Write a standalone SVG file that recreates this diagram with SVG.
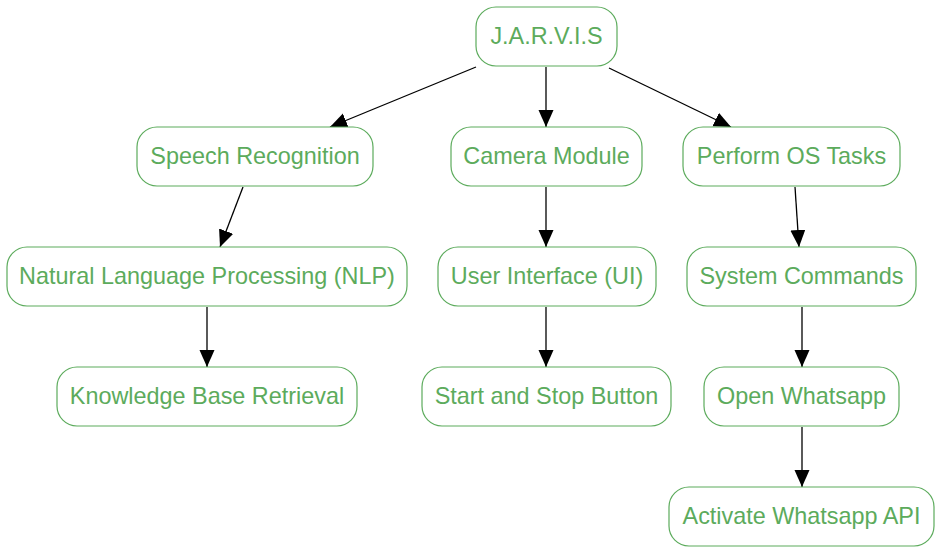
<svg xmlns="http://www.w3.org/2000/svg" width="941" height="553" viewBox="0 0 941 553">
<style>
.n rect{fill:#fff;stroke:#5cab5c;stroke-width:1.2}
.n text{font-family:"Liberation Sans",Arial,sans-serif;font-size:23.4px;fill:#5cab5c;text-anchor:middle;dominant-baseline:central}
.e line{stroke:#000;stroke-width:1.3;marker-end:url(#ah)}
</style>
<defs>
<marker id="ah" markerUnits="userSpaceOnUse" markerWidth="18" markerHeight="16" refX="17" refY="7.5" orient="auto">
<path d="M0,0 L17,7.5 L0,15 Z" fill="#000"/>
</marker>
</defs>
<rect width="941" height="553" fill="#fff"/>
<g id="edges" class="e">
<line x1="476" y1="67" x2="330" y2="127"/>
<line x1="546" y1="67" x2="546" y2="127"/>
<line x1="609" y1="68" x2="731" y2="127"/>
<line x1="243" y1="187" x2="220" y2="247"/>
<line x1="546" y1="187" x2="546" y2="247"/>
<line x1="795" y1="187" x2="799" y2="247"/>
<line x1="207" y1="307" x2="207" y2="367"/>
<line x1="546" y1="307" x2="546" y2="367"/>
<line x1="802" y1="307" x2="802" y2="367"/>
<line x1="802" y1="427" x2="802" y2="487"/>
</g>
<g id="jarvis" class="n"><rect x="476" y="7" width="141" height="59" rx="20"/><text x="546.5" y="36">J.A.R.V.I.S</text></g>
<g id="speech" class="n"><rect x="137" y="127" width="236" height="59" rx="20"/><text x="255" y="156">Speech Recognition</text></g>
<g id="camera" class="n"><rect x="451" y="127" width="191" height="59" rx="20"/><text x="546.5" y="156">Camera Module</text></g>
<g id="ostasks" class="n"><rect x="683" y="127" width="217" height="59" rx="20"/><text x="791.5" y="156">Perform OS Tasks</text></g>
<g id="nlp" class="n"><rect x="7" y="247" width="400" height="59" rx="20"/><text x="207" y="276">Natural Language Processing (NLP)</text></g>
<g id="ui" class="n"><rect x="438" y="247" width="218" height="59" rx="20"/><text x="547" y="276">User Interface (UI)</text></g>
<g id="syscmd" class="n"><rect x="687" y="247" width="229" height="59" rx="20"/><text x="801.5" y="276">System Commands</text></g>
<g id="kb" class="n"><rect x="57" y="367" width="300" height="59" rx="20"/><text x="207" y="396">Knowledge Base Retrieval</text></g>
<g id="startstop" class="n"><rect x="422" y="367" width="249" height="59" rx="20"/><text x="546.5" y="396">Start and Stop Button</text></g>
<g id="whatsapp" class="n"><rect x="704" y="367" width="195" height="59" rx="20"/><text x="801.5" y="396">Open Whatsapp</text></g>
<g id="api" class="n"><rect x="669" y="487" width="265" height="59" rx="20"/><text x="801.5" y="516">Activate Whatsapp API</text></g>
</svg>
